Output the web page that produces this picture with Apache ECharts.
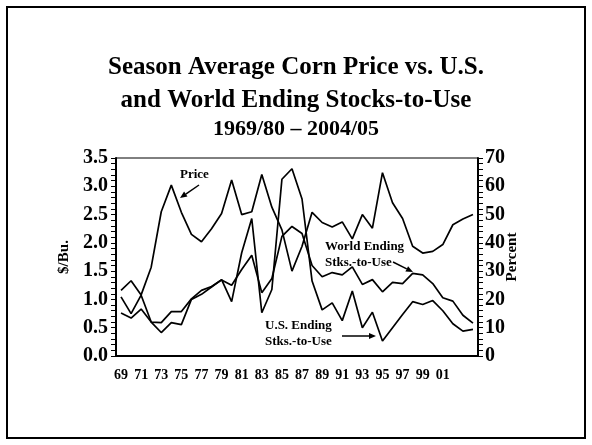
<!DOCTYPE html>
<html>
<head>
<meta charset="utf-8">
<script src="https://cdn.jsdelivr.net/npm/echarts@6/dist/echarts.min.js"></script>
<style>
  html, body { margin: 0; padding: 0; background: #fff; }
  #chart { width: 592px; height: 445px; }
</style>
</head>
<body>
<div id="chart"></div>
<script>
// crop years 1969/70 .. 2004/05
var years = ['69','70','71','72','73','74','75','76','77','78','79','80','81','82','83','84','85','86',
             '87','88','89','90','91','92','93','94','95','96','97','98','99','00','01','02','03','04'];
var shownLabels = ['69','71','73','75','77','79','81','83','85','87','89','91','93','95','97','99','01'];

// season average price, $/bu
var price = [1.16, 1.33, 1.08, 1.57, 2.55, 3.02, 2.54, 2.15, 2.02, 2.25, 2.52, 3.11, 2.50, 2.55, 3.21, 2.63, 2.23, 1.50,
             1.94, 2.54, 2.36, 2.28, 2.37, 2.07, 2.50, 2.26, 3.24, 2.71, 2.43, 1.94, 1.82, 1.85, 1.97, 2.32, 2.42, 2.50];
// U.S. ending stocks-to-use, percent
var usStocks = [20.9, 15.0, 21.5, 12.0, 8.3, 11.8, 11.1, 20.0, 21.8, 24.4, 27.0, 19.2, 36.5, 48.6, 15.3, 23.5, 62.5, 66.2,
                55.5, 26.5, 16.3, 18.8, 12.5, 23.0, 10.0, 15.5, 5.3, 10.0, 14.7, 19.2, 18.2, 19.6, 16.0, 11.4, 8.8, 9.4];
// world ending stocks-to-use, percent
var worldStocks = [15.2, 13.4, 16.6, 12.0, 11.8, 15.7, 15.7, 20.2, 23.2, 24.6, 26.9, 25.0, 30.6, 35.6, 22.4, 27.4, 42.3, 45.8,
                   43.3, 32.0, 28.0, 29.5, 28.7, 31.5, 25.3, 27.0, 22.7, 26.0, 25.6, 29.2, 28.7, 25.6, 20.6, 19.4, 14.4, 11.6];

var titleLines = ['Season Average Corn Price vs. U.S.', 'and World Ending Stocks-to-Use', '1969/80 \u2013 2004/05'];

var serif = "'Liberation Serif', 'Times New Roman', serif";

function arrow(x1, y1, x2, y2) {
    var dx = x2 - x1, dy = y2 - y1;
    var len = Math.sqrt(dx * dx + dy * dy);
    var ux = dx / len, uy = dy / len;
    var bx = x2 - 7 * ux, by = y2 - 7 * uy;
    return [{
        type: 'line',
        shape: { x1: x1, y1: y1, x2: bx, y2: by },
        style: { stroke: '#000', lineWidth: 1.5 }
    }, {
        type: 'polygon',
        shape: { points: [[x2, y2], [bx - 3 * uy, by + 3 * ux], [bx + 3 * uy, by - 3 * ux]] },
        style: { fill: '#000' }
    }];
}

function label(text, x, y) {
    return {
        type: 'text',
        style: { text: text, x: x, y: y, fill: '#000', font: 'bold 13px ' + serif, align: 'left', verticalAlign: 'middle' }
    };
}

var graphics = [{
    type: 'rect',
    shape: { x: 7, y: 7, width: 578, height: 431 },
    style: { fill: null, stroke: '#000', lineWidth: 2 }
},
    label('Price', 180, 175),
    label('World Ending', 325, 247),
    label('Stks.-to-Use', 325, 263),
    label('U.S. Ending', 265, 326),
    label('Stks.-to-Use', 265, 342)
].concat(arrow(199, 185, 180, 198))
 .concat(arrow(393, 262, 413, 272))
 .concat(arrow(342, 336, 376, 336));

echarts.init(document.getElementById('chart')).setOption({
    animation: false,
    backgroundColor: '#fff',
    title: [{
        text: titleLines[0],
        left: 'center',
        top: 50,
        textStyle: { fontFamily: serif, fontWeight: 'bold', fontSize: 25, color: '#000' }
    }, {
        text: titleLines[1],
        left: 'center',
        top: 83,
        textStyle: { fontFamily: serif, fontWeight: 'bold', fontSize: 25, color: '#000' }
    }, {
        text: titleLines[2],
        left: 'center',
        top: 113,
        textStyle: { fontFamily: serif, fontWeight: 'bold', fontSize: 22, color: '#000' }
    }],
    grid: {
        left: 116, right: 114, top: 158, bottom: 89,
        show: true, borderColor: '#000', borderWidth: 1
    },
    xAxis: [{
        type: 'category',
        data: years,
        boundaryGap: true,
        axisLine: { lineStyle: { color: '#000', width: 2 } },
        axisTick: { interval: 0, length: 5, lineStyle: { color: '#000', width: 1 } },
        axisLabel: {
            interval: function (i, v) { return shownLabels.indexOf(v) !== -1; },
            margin: 12,
            fontFamily: serif, fontWeight: 'bold', fontSize: 14, color: '#000'
        },
        splitLine: { show: false }
    }],
    yAxis: [{
        type: 'value',
        name: '$/Bu.',
        nameLocation: 'middle',
        nameGap: 44,
        nameRotate: 90,
        nameMoveOverlap: false,
        nameTextStyle: { fontFamily: serif, fontWeight: 'bold', fontSize: 15, color: '#000' },
        min: 0, max: 3.5, interval: 0.5,
        axisLine: { show: true, lineStyle: { color: '#000', width: 2 } },
        axisTick: { show: true, length: 5, lineStyle: { color: '#000' } },
        minorTick: { show: true, splitNumber: 5, length: 5, lineStyle: { color: '#000' } },
        axisLabel: {
            formatter: function (v) { return v.toFixed(1); },
            margin: 8,
            fontFamily: serif, fontWeight: 'bold', fontSize: 20, color: '#000'
        },
        splitLine: { show: false }
    }, {
        type: 'value',
        name: 'Percent',
        position: 'right',
        nameLocation: 'middle',
        nameGap: 27,
        nameRotate: 90,
        nameMoveOverlap: false,
        nameTextStyle: { fontFamily: serif, fontWeight: 'bold', fontSize: 15, color: '#000' },
        min: 0, max: 70, interval: 10,
        axisLine: { show: true, lineStyle: { color: '#000', width: 2 } },
        axisTick: { show: true, length: 5, lineStyle: { color: '#000' } },
        minorTick: { show: true, splitNumber: 5, length: 5, lineStyle: { color: '#000' } },
        axisLabel: {
            margin: 7,
            fontFamily: serif, fontWeight: 'bold', fontSize: 20, color: '#000'
        },
        splitLine: { show: false }
    }],
    series: [{
        name: 'Price',
        type: 'line',
        yAxisIndex: 0,
        data: price,
        symbol: 'none',
        lineStyle: { color: '#000', width: 1.7 }
    }, {
        name: 'U.S. Ending Stks.-to-Use',
        type: 'line',
        yAxisIndex: 1,
        data: usStocks,
        symbol: 'none',
        lineStyle: { color: '#000', width: 1.7 }
    }, {
        name: 'World Ending Stks.-to-Use',
        type: 'line',
        yAxisIndex: 1,
        data: worldStocks,
        symbol: 'none',
        lineStyle: { color: '#000', width: 1.7 }
    }],
    graphic: graphics
});
</script>
</body>
</html>
